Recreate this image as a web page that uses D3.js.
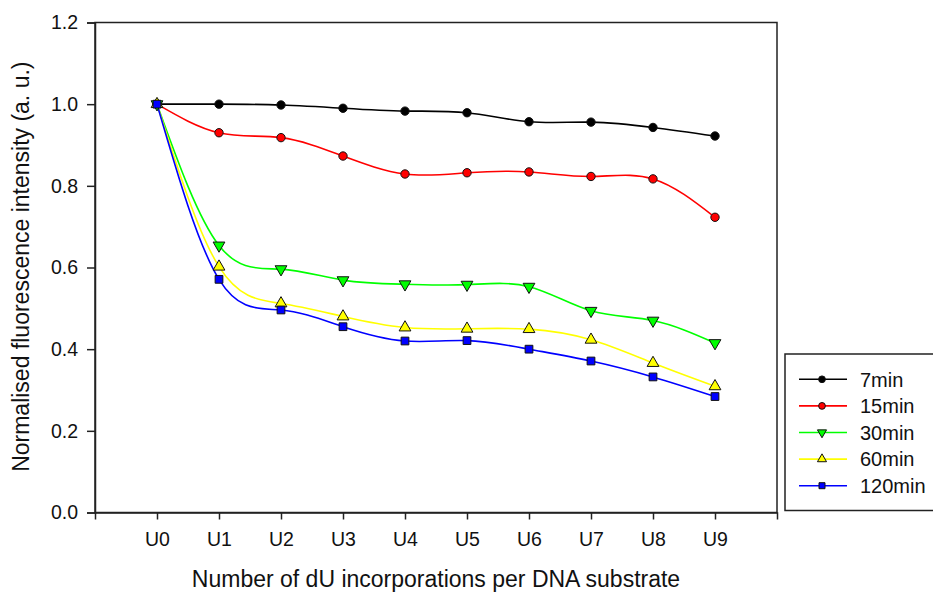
<!DOCTYPE html>
<html>
<head>
<meta charset="utf-8">
<script src="https://cdn.jsdelivr.net/npm/d3@7"></script>
<style>
  body { margin: 0; background: #fff; }
  text { font-family: "Liberation Sans", Arial, sans-serif; fill: #111; }
</style>
</head>
<body>
<script>
var categories = ["U0", "U1", "U2", "U3", "U4", "U5", "U6", "U7", "U8", "U9"];
var seriesNames = ["7min", "15min", "30min", "60min", "120min"];
var min7   = [1.0, 1.0, 0.998, 0.990, 0.983, 0.979, 0.957, 0.956, 0.943, 0.922];
var min15  = [1.0, 0.930, 0.918, 0.873, 0.829, 0.832, 0.834, 0.823, 0.817, 0.723];
var min30  = [1.0, 0.654, 0.596, 0.569, 0.559, 0.558, 0.553, 0.494, 0.470, 0.415];
var min60  = [1.0, 0.602, 0.512, 0.480, 0.453, 0.450, 0.449, 0.423, 0.366, 0.309];
var min120 = [1.0, 0.571, 0.496, 0.455, 0.420, 0.421, 0.400, 0.371, 0.332, 0.284];
var yTicks = [0, 0.2, 0.4, 0.6, 0.8, 1.0, 1.2];

var colors = ["#000000", "#ff0000", "#00ff00", "#ffff00", "#0000ff"];
var symbols = [d3.symbolCircle, d3.symbolCircle, d3.symbolTriangle, d3.symbolTriangle, d3.symbolSquare];
var rotations = [0, 0, 180, 0, 0];
var seriesValues = [min7, min15, min30, min60, min120];

var width = 933, height = 592,
    margin = {top: 22.5, right: 156, bottom: 79.5, left: 95};

var svg = d3.select("body").append("svg")
    .attr("width", width)
    .attr("height", height);

var x = d3.scalePoint()
    .domain(categories)
    .range([margin.left, width - margin.right])
    .padding(1);

var y = d3.scaleLinear()
    .domain([0, 1.2])
    .range([height - margin.bottom, margin.top]);

// plot frame
svg.append("rect")
    .attr("x", margin.left)
    .attr("y", margin.top)
    .attr("width", width - margin.right - margin.left)
    .attr("height", height - margin.bottom - margin.top)
    .attr("fill", "none")
    .attr("stroke", "#222")
    .attr("stroke-width", 1.5);

// axes
var gX = svg.append("g")
    .attr("transform", "translate(0," + (height - margin.bottom) + ")")
    .call(d3.axisBottom(x).tickSize(7).tickPadding(13));
var gY = svg.append("g")
    .attr("transform", "translate(" + margin.left + ",0)")
    .call(d3.axisLeft(y).tickValues(yTicks).tickFormat(d3.format(".1f")).tickSize(8).tickPadding(9));

[gX, gY].forEach(function(g) {
  g.select(".domain").attr("stroke", "#222").attr("stroke-width", 1.5);
  g.selectAll(".tick line").attr("stroke", "#222").attr("stroke-width", 1.5);
  g.selectAll(".tick text").attr("font-size", 19.5).attr("fill", "#111")
    .attr("font-family", "Liberation Sans, Arial, sans-serif");
});

// axis labels
svg.append("text")
    .attr("x", (margin.left + width - margin.right) / 2)
    .attr("y", 587)
    .attr("text-anchor", "middle")
    .attr("font-size", 23)
    .text("Number of dU incorporations per DNA substrate");
svg.append("text")
    .attr("transform", "rotate(-90)")
    .attr("x", -266.7)
    .attr("y", 29)
    .attr("text-anchor", "middle")
    .attr("font-size", 23)
    .text("Normalised fluorescence intensity (a. u.)");

// lines
var line = d3.line()
    .x(function(d, i) { return x(categories[i]); })
    .y(function(d) { return y(d); })
    .curve(d3.curveNatural);

seriesValues.forEach(function(vals, s) {
  svg.append("path")
      .datum(vals)
      .attr("fill", "none")
      .attr("stroke", colors[s])
      .attr("stroke-width", 1.6)
      .attr("d", line);
});

// markers
var symbolSizes = [55, 55, 60, 60, 60];
seriesValues.forEach(function(vals, s) {
  svg.selectAll(".m" + s)
    .data(vals)
    .enter().append("path")
      .attr("class", "m" + s)
      .attr("transform", function(d, i) {
        return "translate(" + x(categories[i]) + "," + y(d) + ") rotate(" + rotations[s] + ")";
      })
      .attr("d", d3.symbol().type(symbols[s]).size(symbolSizes[s]))
      .attr("fill", colors[s])
      .attr("stroke", "#111")
      .attr("stroke-width", 1);
});

// legend
var legend = svg.append("g");
legend.append("rect")
    .attr("x", 785)
    .attr("y", 354)
    .attr("width", 160)
    .attr("height", 156.5)
    .attr("fill", "#fff")
    .attr("stroke", "#222")
    .attr("stroke-width", 1.5);

seriesNames.forEach(function(name, s) {
  var ly = 379.3 + s * 26.6;
  legend.append("line")
      .attr("x1", 799).attr("x2", 847)
      .attr("y1", ly).attr("y2", ly)
      .attr("stroke", colors[s])
      .attr("stroke-width", 1.6);
  legend.append("path")
      .attr("transform", "translate(822," + ly + ") rotate(" + rotations[s] + ")")
      .attr("d", d3.symbol().type(symbols[s]).size(36))
      .attr("fill", colors[s])
      .attr("stroke", "#111")
      .attr("stroke-width", 1);
  legend.append("text")
      .attr("x", 860)
      .attr("y", ly)
      .attr("dy", "0.36em")
      .attr("font-size", 20)
      .text(name);
});
</script>
</body>
</html>
